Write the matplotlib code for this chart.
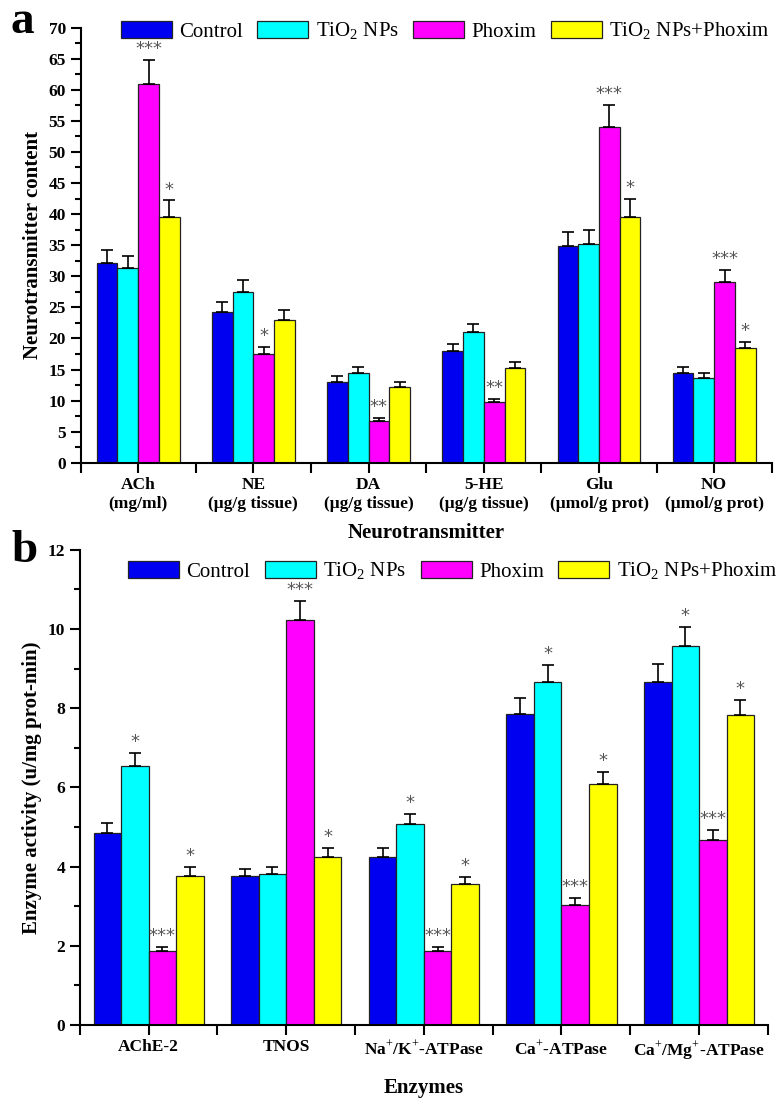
import numpy as np
import matplotlib
matplotlib.use('Agg')
import matplotlib.pyplot as plt
from matplotlib.ticker import MultipleLocator, FixedLocator

plt.rcParams['font.family'] = ['Liberation Serif', 'DejaVu Serif']
plt.rcParams['mathtext.fontset'] = 'custom'
plt.rcParams['mathtext.rm'] = 'Liberation Serif'
plt.rcParams['mathtext.bf'] = 'Liberation Serif:bold'

# Datos

grupos = ['Control', 'TiO$_2$ NPs', 'Phoxim', 'TiO$_2$ NPs+Phoxim']
colores = ['#0000F0', '#00FFFF', '#FF00FF', '#FFFF00']

cat_a = ['ACh\n(mg/ml)', 'NE\n(μg/g tissue)', 'DA\n(μg/g tissue)',
         '5-HE\n(μg/g tissue)', 'Glu\n(μmol/g prot)', 'NO\n(μmol/g prot)']
control_a = [32.2, 24.2, 13.0, 18.0, 34.8, 14.4]
tio2_a = [31.4, 27.5, 14.4, 21.0, 35.2, 13.6]
phoxim_a = [61.0, 17.5, 6.8, 9.8, 54.0, 29.1]
mix_a = [39.6, 23.0, 12.2, 15.2, 39.6, 18.4]
err_control_a = [2.1, 1.6, 0.9, 1.1, 2.4, 1.0]
err_tio2_a = [1.9, 1.9, 1.0, 1.3, 2.3, 0.8]
err_phoxim_a = [3.8, 1.2, 0.4, 0.5, 3.6, 1.9]
err_mix_a = [2.6, 1.6, 0.8, 1.0, 2.8, 1.1]
sig_a = [['', '', '***', '*'], ['', '', '*', ''], ['', '', '**', ''],
         ['', '', '**', ''], ['', '', '***', '*'], ['', '', '***', '*']]

cat_b = ['AChE-2', 'TNOS', 'Na$^{+}$/K$^{+}$-ATPase', 'Ca$^{+}$-ATPase',
         'Ca$^{+}$/Mg$^{+}$-ATPase']
control_b = [4.86, 3.75, 4.25, 7.85, 8.67]
tio2_b = [6.54, 3.81, 5.07, 8.65, 9.56]
phoxim_b = [1.87, 10.22, 1.87, 3.04, 4.68]
mix_b = [3.77, 4.25, 3.56, 6.09, 7.83]
err_control_b = [0.24, 0.19, 0.21, 0.40, 0.45]
err_tio2_b = [0.34, 0.19, 0.26, 0.44, 0.49]
err_phoxim_b = [0.10, 0.50, 0.10, 0.16, 0.24]
err_mix_b = [0.21, 0.21, 0.17, 0.31, 0.38]
sig_b = [['', '*', '***', '*'], ['', '', '***', '*'], ['', '*', '***', '*'],
         ['', '*', '***', '*'], ['', '*', '***', '*']]


def panel(ax, cats, series, errs, sigs, ymax, major, minor, ancho, star_off):
    x = np.arange(len(cats))
    n = len(series)
    for i in range(n):
        pos = x + (i - (n - 1) / 2) * ancho
        ax.bar(pos, series[i], ancho, color=colores[i], edgecolor='#222222',
               linewidth=0.9, label=grupos[i], zorder=2)
        ax.errorbar(pos, series[i], yerr=[np.zeros(len(cats)), errs[i]],
                    fmt='none', ecolor='black', elinewidth=1.2, capsize=4,
                    capthick=1.2, zorder=3)
        for j in range(len(cats)):
            s = sigs[j][i]
            if s:
                ax.text(pos[j], series[i][j] + errs[i][j] + star_off, s,
                        ha='center', va='bottom', color='#555555',
                        fontsize=13, fontfamily='DejaVu Sans')
    ax.set_xlim(-0.5, len(cats) - 0.5)
    ax.set_ylim(0, ymax)
    ax.spines['top'].set_visible(False)
    ax.spines['right'].set_visible(False)
    ax.spines['left'].set_linewidth(1.5)
    ax.spines['bottom'].set_linewidth(1.5)
    ax.yaxis.set_major_locator(MultipleLocator(major))
    ax.yaxis.set_minor_locator(MultipleLocator(minor))
    ax.set_xticks(x)
    ax.set_xticklabels(cats, fontweight='bold', fontsize=12.5)
    ax.xaxis.set_minor_locator(FixedLocator(np.arange(len(cats) + 1) - 0.5))
    ax.tick_params(axis='both', which='major', length=7, width=1.5,
                   labelsize=12.5)
    ax.tick_params(axis='both', which='minor', length=4, width=1.5)
    ax.tick_params(axis='x', which='minor', length=7)
    for t in ax.get_yticklabels():
        t.set_fontweight('bold')


def leyenda(ax, x0, y0):
    ax.legend(loc='upper left', bbox_to_anchor=(x0, y0), ncol=4,
              frameon=False, fontsize=15, handlelength=2.45,
              handleheight=0.85, columnspacing=0.7, handletextpad=0.35,
              borderaxespad=0)


fig = plt.figure(figsize=(7.82, 11.02), dpi=100)

ax1 = fig.add_axes([0.103, 0.58, 0.884, 0.395])
panel(ax1, cat_a, [control_a, tio2_a, phoxim_a, mix_a],
      [err_control_a, err_tio2_a, err_phoxim_a, err_mix_a], sig_a,
      70, 5, 2.5, 0.18, 0.3)
ax1.set_ylabel('Neurotransmitter content', fontweight='bold', fontsize=15)
ax1.set_xlabel('Neurotransmitter', fontweight='bold', fontsize=15, labelpad=8)
leyenda(ax1, 0.046, 1.035)
fig.text(0.014, 0.97, 'a', fontsize=34, fontweight='bold')

ax2 = fig.add_axes([0.102, 0.07, 0.88, 0.431])
panel(ax2, cat_b, [control_b, tio2_b, phoxim_b, mix_b],
      [err_control_b, err_tio2_b, err_phoxim_b, err_mix_b], sig_b,
      12, 2, 1, 0.2, 0.05)
ax2.set_ylabel('Enzyme activity (u/mg prot-min)', fontweight='bold',
               fontsize=15)
ax2.set_xlabel('Enzymes', fontweight='bold', fontsize=15)
ax2.xaxis.set_label_coords(0.5, -0.112)
leyenda(ax2, 0.058, 0.995)
fig.text(0.014, 0.49, 'b', fontsize=34, fontweight='bold')

fig.savefig('out.png', dpi=100)
